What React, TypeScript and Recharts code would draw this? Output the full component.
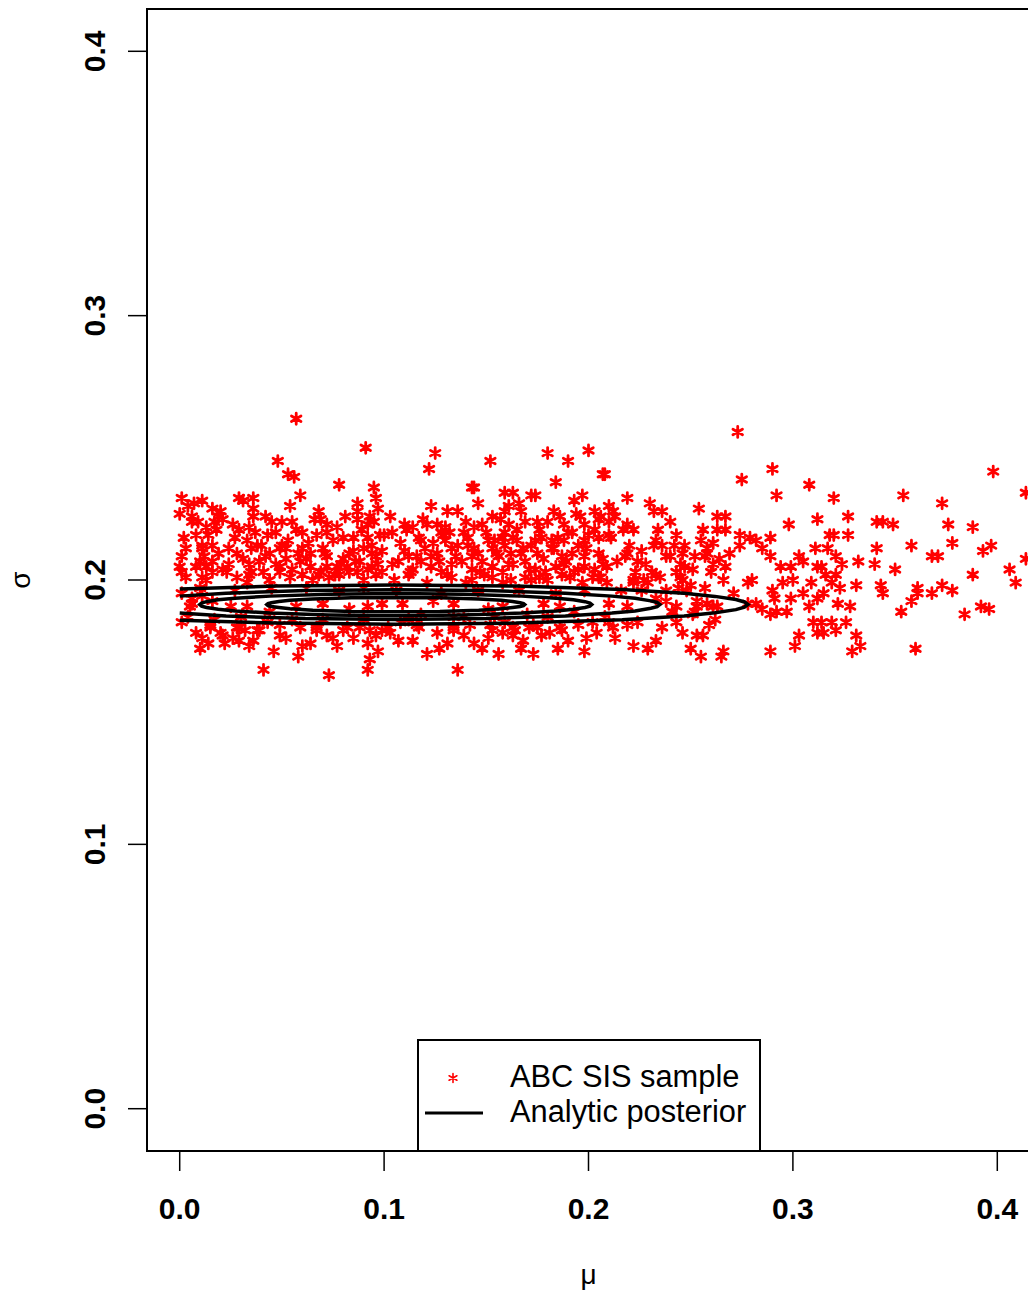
import React from 'react';
import { ScatterChart, Scatter, XAxis, YAxis, ReferenceArea, Legend, Label } from 'recharts';

type Pair = [number, number];

const FONT = '"Liberation Sans", Arial, Helvetica, sans-serif';

const muTicks = [0, 0.1, 0.2, 0.3, 0.4];
const sigmaTicks = [0, 0.1, 0.2, 0.3, 0.4];
const axisDomain: [number, number] = [-0.016, 0.416];
const legendLabels = ['ABC SIS sample', 'Analytic posterior'];
const axisTitles = { x: 'μ', y: 'σ' };

// ABC SIS sample, [mu, sigma]
const abcLeft: Pair[] = [
  [0.057, 0.261], [0.091, 0.250], [0.048, 0.245], [0.053, 0.240], [0.056, 0.239], [0.078, 0.236], [0.001, 0.231], [0.095, 0.235], [0.096, 0.231], [0.059, 0.232],
  [0.029, 0.231], [0.036, 0.231], [0.031, 0.230], [0.007, 0.229], [0.011, 0.230], [0.087, 0.229], [0.087, 0.226], [0.054, 0.228], [0.036, 0.227], [0.097, 0.227],
  [0.000, 0.225], [0.016, 0.227], [0.020, 0.226], [0.042, 0.224], [0.068, 0.226], [0.006, 0.224], [0.006, 0.222], [0.021, 0.223], [0.017, 0.222], [0.036, 0.224],
  [0.050, 0.222], [0.055, 0.222], [0.093, 0.224], [0.092, 0.221], [0.069, 0.223], [0.087, 0.223], [0.072, 0.221], [0.077, 0.220], [0.013, 0.220], [0.018, 0.219],
  [0.034, 0.220], [0.029, 0.219], [0.047, 0.218], [0.043, 0.217], [0.060, 0.218], [0.067, 0.217], [0.072, 0.218], [0.080, 0.216], [0.085, 0.216], [0.092, 0.216],
  [0.098, 0.217], [0.002, 0.216], [0.008, 0.217], [0.027, 0.216], [0.033, 0.215], [0.053, 0.215], [0.050, 0.213], [0.011, 0.213], [0.016, 0.213], [0.011, 0.212],
  [0.038, 0.213], [0.035, 0.212], [0.044, 0.210], [0.049, 0.212], [0.060, 0.212], [0.064, 0.210], [0.070, 0.212], [0.072, 0.209], [0.083, 0.210], [0.080, 0.208],
  [0.090, 0.212], [0.094, 0.210], [0.096, 0.209], [0.001, 0.209], [0.000, 0.205], [0.019, 0.210], [0.016, 0.207], [0.028, 0.210], [0.024, 0.206], [0.034, 0.206],
  [0.039, 0.207], [0.010, 0.207], [0.013, 0.205], [0.052, 0.208], [0.049, 0.205], [0.059, 0.207], [0.064, 0.205], [0.072, 0.205], [0.069, 0.203], [0.077, 0.205],
  [0.082, 0.205], [0.088, 0.207], [0.092, 0.204], [0.087, 0.203], [0.094, 0.205], [0.099, 0.203], [0.003, 0.201], [0.001, 0.203], [0.011, 0.201], [0.016, 0.203],
  [0.023, 0.203], [0.028, 0.201], [0.034, 0.202], [0.041, 0.203], [0.044, 0.200], [0.049, 0.203], [0.054, 0.201], [0.060, 0.202], [0.065, 0.200], [0.073, 0.201],
  [0.078, 0.202], [0.083, 0.203], [0.090, 0.200], [0.096, 0.202],
  [0.006, 0.193], [0.005, 0.190], [0.001, 0.184], [0.011, 0.194], [0.015, 0.182], [0.020, 0.180], [0.021, 0.179], [0.011, 0.178], [0.014, 0.176], [0.022, 0.176],
  [0.029, 0.177], [0.034, 0.175], [0.028, 0.182], [0.032, 0.181], [0.039, 0.181], [0.033, 0.190], [0.049, 0.179], [0.041, 0.166], [0.059, 0.182], [0.060, 0.175],
  [0.067, 0.181], [0.072, 0.179], [0.075, 0.178], [0.082, 0.182], [0.088, 0.182], [0.073, 0.164], [0.092, 0.176], [0.097, 0.173], [0.093, 0.170], [0.092, 0.166],
  [0.099, 0.181],
];

const abcCentre: Pair[] = [
  [0.125, 0.248], [0.122, 0.242], [0.152, 0.245], [0.180, 0.248], [0.200, 0.249], [0.190, 0.245], [0.207, 0.240], [0.143, 0.235], [0.144, 0.235], [0.184, 0.237],
  [0.159, 0.233], [0.163, 0.233], [0.172, 0.232], [0.174, 0.232], [0.193, 0.230], [0.197, 0.232], [0.123, 0.228], [0.146, 0.229], [0.166, 0.229], [0.167, 0.226],
  [0.161, 0.228], [0.183, 0.226], [0.131, 0.226], [0.136, 0.226], [0.153, 0.224], [0.159, 0.226], [0.194, 0.225], [0.196, 0.224], [0.203, 0.226], [0.205, 0.223],
  [0.110, 0.221], [0.114, 0.220], [0.121, 0.221], [0.126, 0.221], [0.130, 0.220], [0.128, 0.218], [0.144, 0.220], [0.148, 0.221], [0.161, 0.221], [0.159, 0.218],
  [0.169, 0.222], [0.175, 0.222], [0.180, 0.222], [0.188, 0.221], [0.190, 0.218], [0.198, 0.221], [0.200, 0.217], [0.104, 0.218], [0.117, 0.216], [0.118, 0.215],
  [0.129, 0.217], [0.130, 0.215], [0.139, 0.218], [0.141, 0.216], [0.151, 0.215], [0.154, 0.215], [0.158, 0.216], [0.163, 0.216], [0.165, 0.215], [0.174, 0.215],
  [0.177, 0.216], [0.182, 0.215], [0.185, 0.216], [0.188, 0.215], [0.198, 0.215], [0.205, 0.216], [0.100, 0.217], [0.110, 0.211], [0.112, 0.209], [0.120, 0.212],
  [0.123, 0.209], [0.126, 0.210], [0.133, 0.212], [0.135, 0.209], [0.141, 0.213], [0.143, 0.209], [0.146, 0.210], [0.153, 0.212], [0.156, 0.209], [0.159, 0.213],
  [0.162, 0.210], [0.167, 0.210], [0.172, 0.213], [0.175, 0.210], [0.182, 0.212], [0.187, 0.209], [0.192, 0.210], [0.195, 0.213], [0.198, 0.209], [0.205, 0.210],
  [0.104, 0.206], [0.107, 0.207], [0.114, 0.204], [0.118, 0.207], [0.123, 0.205], [0.128, 0.203], [0.133, 0.206], [0.138, 0.207], [0.143, 0.204], [0.148, 0.207],
  [0.153, 0.205], [0.158, 0.203], [0.163, 0.206], [0.169, 0.207], [0.174, 0.204], [0.179, 0.203], [0.184, 0.205], [0.188, 0.206], [0.193, 0.203], [0.198, 0.205],
  [0.203, 0.204], [0.207, 0.206], [0.105, 0.200], [0.112, 0.202], [0.121, 0.199], [0.133, 0.201], [0.143, 0.200], [0.149, 0.202], [0.158, 0.199], [0.169, 0.201],
  [0.180, 0.200], [0.187, 0.202], [0.197, 0.199], [0.205, 0.201],
  [0.102, 0.182], [0.107, 0.177], [0.117, 0.182], [0.121, 0.172], [0.127, 0.174], [0.134, 0.181], [0.139, 0.179], [0.136, 0.166], [0.144, 0.176], [0.151, 0.178],
  [0.153, 0.181], [0.163, 0.179], [0.164, 0.181], [0.167, 0.174], [0.171, 0.182], [0.175, 0.182], [0.173, 0.172], [0.181, 0.180], [0.187, 0.181], [0.198, 0.173],
  [0.154, 0.186], [0.159, 0.184],
];

const abcRight: Pair[] = [
  [0.273, 0.256], [0.208, 0.240], [0.290, 0.242], [0.275, 0.238], [0.308, 0.236], [0.292, 0.232], [0.219, 0.231], [0.230, 0.229], [0.210, 0.228], [0.212, 0.226],
  [0.213, 0.224], [0.232, 0.226], [0.236, 0.226], [0.254, 0.227], [0.263, 0.224], [0.267, 0.224], [0.206, 0.224], [0.312, 0.223], [0.298, 0.221], [0.210, 0.222],
  [0.219, 0.221], [0.222, 0.219], [0.234, 0.219], [0.256, 0.219], [0.263, 0.219], [0.267, 0.219], [0.210, 0.217], [0.211, 0.216], [0.243, 0.217], [0.274, 0.217],
  [0.279, 0.216], [0.282, 0.215], [0.289, 0.216], [0.261, 0.214], [0.274, 0.213], [0.311, 0.212], [0.220, 0.213], [0.219, 0.210], [0.218, 0.209], [0.232, 0.213],
  [0.236, 0.213], [0.240, 0.209], [0.242, 0.213], [0.246, 0.210], [0.258, 0.212], [0.258, 0.210], [0.257, 0.209], [0.285, 0.212], [0.289, 0.209], [0.303, 0.209],
  [0.305, 0.207], [0.264, 0.208], [0.267, 0.205], [0.207, 0.208], [0.209, 0.205], [0.224, 0.207], [0.223, 0.203], [0.245, 0.206], [0.247, 0.205], [0.251, 0.204],
  [0.294, 0.205], [0.299, 0.205], [0.312, 0.205], [0.231, 0.203], [0.233, 0.202], [0.235, 0.201], [0.243, 0.203], [0.246, 0.200], [0.260, 0.203], [0.266, 0.200],
  [0.278, 0.199], [0.280, 0.200], [0.295, 0.199], [0.300, 0.200], [0.309, 0.199], [0.227, 0.200], [0.222, 0.199], [0.206, 0.201], [0.209, 0.199], [0.238, 0.196],
  [0.250, 0.198], [0.248, 0.196], [0.290, 0.196], [0.291, 0.193], [0.299, 0.193], [0.305, 0.195], [0.308, 0.190], [0.312, 0.193], [0.271, 0.195], [0.278, 0.191],
  [0.282, 0.191], [0.285, 0.189], [0.289, 0.187], [0.292, 0.188], [0.297, 0.188], [0.253, 0.190], [0.252, 0.188], [0.261, 0.190], [0.262, 0.185], [0.243, 0.184],
  [0.219, 0.183], [0.212, 0.182], [0.210, 0.184], [0.233, 0.177], [0.229, 0.174], [0.222, 0.175], [0.253, 0.179], [0.256, 0.179], [0.250, 0.174], [0.255, 0.171],
  [0.266, 0.173], [0.265, 0.171], [0.289, 0.173], [0.303, 0.179], [0.301, 0.175], [0.310, 0.184], [0.312, 0.180],
];

const abcTail: Pair[] = [
  [0.398, 0.241], [0.414, 0.233], [0.320, 0.231], [0.354, 0.232], [0.373, 0.229], [0.327, 0.224], [0.341, 0.222], [0.344, 0.222], [0.349, 0.221], [0.376, 0.221],
  [0.388, 0.220], [0.318, 0.217], [0.320, 0.217], [0.327, 0.217], [0.341, 0.212], [0.358, 0.213], [0.378, 0.214], [0.393, 0.211], [0.397, 0.213], [0.414, 0.208],
  [0.317, 0.212], [0.321, 0.209], [0.324, 0.206], [0.332, 0.207], [0.340, 0.206], [0.350, 0.204], [0.368, 0.209], [0.371, 0.209], [0.314, 0.205], [0.316, 0.202],
  [0.319, 0.199], [0.321, 0.202], [0.323, 0.197], [0.331, 0.198], [0.343, 0.198], [0.344, 0.195], [0.361, 0.197], [0.361, 0.195], [0.368, 0.195], [0.373, 0.198],
  [0.378, 0.196], [0.388, 0.202], [0.406, 0.204], [0.409, 0.199], [0.315, 0.195], [0.322, 0.191], [0.328, 0.190], [0.358, 0.192], [0.353, 0.188], [0.392, 0.190],
  [0.396, 0.189], [0.384, 0.187], [0.314, 0.184], [0.319, 0.184], [0.326, 0.184], [0.315, 0.180], [0.321, 0.181], [0.331, 0.179], [0.329, 0.173], [0.333, 0.175],
  [0.360, 0.174],
];

// points partly hidden between the contour lines
const abcBand: Pair[] = [
  [0.013, 0.200], [0.033, 0.199], [0.006, 0.191], [0.016, 0.192], [0.025, 0.190], [0.044, 0.188], [0.057, 0.190], [0.070, 0.191], [0.083, 0.189], [0.092, 0.190],
  [0.099, 0.191], [0.109, 0.191], [0.124, 0.192], [0.134, 0.191], [0.015, 0.183], [0.029, 0.182], [0.038, 0.181], [0.049, 0.183], [0.067, 0.182], [0.080, 0.181],
  [0.093, 0.181], [0.103, 0.180], [0.116, 0.183], [0.134, 0.182],
  [0.140, 0.199], [0.162, 0.200], [0.176, 0.201], [0.202, 0.201], [0.222, 0.200], [0.229, 0.199], [0.245, 0.201], [0.158, 0.190], [0.178, 0.191], [0.186, 0.190],
  [0.210, 0.191], [0.219, 0.190], [0.238, 0.192], [0.243, 0.190], [0.253, 0.192], [0.258, 0.191], [0.263, 0.190], [0.152, 0.183], [0.163, 0.182], [0.173, 0.183],
  [0.186, 0.182], [0.202, 0.184], [0.208, 0.186], [0.251, 0.187], [0.241, 0.188],
];

// the dense overlapping core
const abcCore: Pair[] = [
  [0.004, 0.228], [0.009, 0.222], [0.014, 0.217], [0.019, 0.224], [0.024, 0.212], [0.026, 0.221], [0.031, 0.208], [0.037, 0.218], [0.040, 0.213], [0.045, 0.222],
  [0.047, 0.206], [0.052, 0.212], [0.057, 0.219], [0.062, 0.208], [0.063, 0.214], [0.066, 0.223], [0.071, 0.210], [0.075, 0.215], [0.079, 0.206], [0.081, 0.224],
  [0.085, 0.211], [0.089, 0.219], [0.094, 0.213], [0.097, 0.206], [0.003, 0.212], [0.008, 0.205], [0.012, 0.209], [0.021, 0.204], [0.035, 0.203], [0.042, 0.209],
  [0.055, 0.204], [0.058, 0.210], [0.068, 0.202], [0.076, 0.202], [0.086, 0.207], [0.095, 0.222], [0.099, 0.211], [0.001, 0.195], [0.010, 0.197], [0.027, 0.196],
  [0.045, 0.197], [0.062, 0.197], [0.078, 0.196], [0.090, 0.197],
  [0.004, 0.186], [0.008, 0.180], [0.017, 0.185], [0.026, 0.178], [0.030, 0.186], [0.036, 0.177], [0.043, 0.184], [0.052, 0.178], [0.055, 0.185], [0.064, 0.176],
  [0.070, 0.185], [0.077, 0.175], [0.085, 0.178], [0.090, 0.185], [0.096, 0.179], [0.046, 0.173], [0.010, 0.174], [0.058, 0.171],
  [0.103, 0.224], [0.108, 0.214], [0.111, 0.219], [0.116, 0.209], [0.119, 0.223], [0.124, 0.214], [0.127, 0.207], [0.132, 0.218], [0.136, 0.213], [0.140, 0.222],
  [0.144, 0.212], [0.147, 0.203], [0.150, 0.218], [0.155, 0.210], [0.157, 0.223], [0.161, 0.206], [0.165, 0.219], [0.168, 0.212], [0.171, 0.204], [0.176, 0.219],
  [0.178, 0.208], [0.183, 0.212], [0.186, 0.224], [0.189, 0.207], [0.192, 0.218], [0.195, 0.204], [0.199, 0.212], [0.203, 0.219], [0.113, 0.203], [0.131, 0.202],
  [0.153, 0.201], [0.172, 0.200], [0.191, 0.201],
  [0.106, 0.196], [0.118, 0.187], [0.128, 0.195], [0.139, 0.186], [0.146, 0.196], [0.151, 0.189], [0.166, 0.196], [0.170, 0.187], [0.184, 0.195], [0.193, 0.188],
  [0.198, 0.196], [0.112, 0.185], [0.134, 0.186], [0.180, 0.186],
  [0.108, 0.184], [0.114, 0.177], [0.126, 0.180], [0.131, 0.176], [0.142, 0.183], [0.148, 0.174], [0.158, 0.180], [0.168, 0.177], [0.177, 0.179], [0.190, 0.177],
  [0.195, 0.183], [0.199, 0.178], [0.156, 0.172], [0.185, 0.174],
  [0.214, 0.207], [0.217, 0.219], [0.226, 0.211], [0.228, 0.206], [0.233, 0.215], [0.238, 0.209], [0.240, 0.222], [0.247, 0.213], [0.252, 0.209], [0.255, 0.215],
  [0.261, 0.206], [0.269, 0.210], [0.226, 0.196], [0.233, 0.193], [0.244, 0.197], [0.216, 0.196], [0.257, 0.197],
  [0.213, 0.178], [0.224, 0.184], [0.236, 0.182], [0.246, 0.180], [0.259, 0.183], [0.204, 0.180],
];

// analytic posterior contours, [mu, sigma], innermost first
const contour1: Pair[] = [
  [0.1057, 0.1934], [0.0841, 0.1933], [0.0651, 0.1928], [0.0540, 0.1923], [0.0485, 0.1919], [0.0448, 0.1914], [0.0432, 0.1911], [0.0426, 0.1907],
  [0.0432, 0.1903], [0.0448, 0.1900], [0.0485, 0.1896], [0.0540, 0.1891], [0.0651, 0.1886], [0.0841, 0.1881], [0.1057, 0.1880], [0.1273, 0.1881],
  [0.1463, 0.1886], [0.1574, 0.1891], [0.1629, 0.1896], [0.1666, 0.1900], [0.1682, 0.1903], [0.1688, 0.1907], [0.1682, 0.1911], [0.1666, 0.1914],
  [0.1629, 0.1919], [0.1574, 0.1923], [0.1463, 0.1928], [0.1273, 0.1933], [0.1057, 0.1934],
];
const contour2: Pair[] = [
  [0.1057, 0.1949], [0.0729, 0.1946], [0.0441, 0.1939], [0.0271, 0.1931], [0.0188, 0.1925], [0.0131, 0.1918], [0.0107, 0.1913], [0.0098, 0.1907],
  [0.0107, 0.1901], [0.0131, 0.1896], [0.0188, 0.1889], [0.0271, 0.1883], [0.0441, 0.1875], [0.0729, 0.1868], [0.1057, 0.1865], [0.1385, 0.1868],
  [0.1673, 0.1875], [0.1843, 0.1883], [0.1926, 0.1889], [0.1983, 0.1896], [0.2007, 0.1901], [0.2016, 0.1907], [0.2007, 0.1913], [0.1983, 0.1918],
  [0.1926, 0.1925], [0.1843, 0.1931], [0.1673, 0.1939], [0.1385, 0.1946], [0.1057, 0.1949],
];
const contour3: Pair[] = [
  [0, 0.1939], [0.0227, 0.1950], [0.0615, 0.1960], [0.1057, 0.1963], [0.1499, 0.1960], [0.1887, 0.1950], [0.2115, 0.1939], [0.2228, 0.1931],
  [0.2305, 0.1921], [0.2336, 0.1915], [0.2349, 0.1907], [0.2336, 0.1899], [0.2305, 0.1893], [0.2228, 0.1883], [0.2115, 0.1875], [0.1887, 0.1864],
  [0.1499, 0.1854], [0.1057, 0.1851], [0.0615, 0.1854], [0.0227, 0.1864], [0, 0.1875],
];
const contour4: Pair[] = [
  [0, 0.1966], [0.0468, 0.1977], [0.1057, 0.1981], [0.1646, 0.1977], [0.2165, 0.1964], [0.2468, 0.1950], [0.2619, 0.1938], [0.2721, 0.1926],
  [0.2763, 0.1917], [0.2780, 0.1907], [0.2763, 0.1897], [0.2721, 0.1888], [0.2619, 0.1876], [0.2468, 0.1864], [0.2165, 0.1850], [0.1646, 0.1837],
  [0.1057, 0.1833], [0.0468, 0.1837], [0, 0.1848],
];

const toPoints = (pairs: Pair[]) => pairs.map(([mu, sigma]) => ({ mu, sigma }));

const samplePoints = toPoints([...abcLeft, ...abcCentre, ...abcRight, ...abcTail, ...abcBand, ...abcCore]);
const contours = [contour1, contour2, contour3, contour4].map(toPoints);

const starPath = (cx: number, cy: number, r: number) => {
  const a = r * 0.866;
  const b = r * 0.5;
  return `M${cx},${cy - r}L${cx},${cy + r}M${cx - a},${cy - b}L${cx + a},${cy + b}M${cx - a},${cy + b}L${cx + a},${cy - b}`;
};

const Star = (props: any) => (
  <path d={starPath(props.cx, props.cy, 5.5)} stroke="#ff0000" strokeWidth={2.8} strokeLinecap="round" fill="none" />
);

const MuTick = (props: any) => {
  const { x, y, payload } = props;
  return (
    <text x={x} y={y + 46} textAnchor="middle" fontSize={30} fontWeight="bold" fill="#000" fontFamily={FONT}>
      {payload.value.toFixed(1)}
    </text>
  );
};

const SigmaTick = (props: any) => {
  const { y, payload } = props;
  const bx = 105;
  return (
    <text x={bx} y={y} transform={`rotate(-90, ${bx}, ${y})`} textAnchor="middle" fontSize={30} fontWeight="bold" fill="#000" fontFamily={FONT}>
      {payload.value.toFixed(1)}
    </text>
  );
};

const LegendBox = () => (
  <svg width={345} height={114} style={{ display: 'block' }}>
    <rect x={1} y={1} width={342} height={111} fill="#fff" stroke="#000" strokeWidth={2} />
    <path d={starPath(36, 39, 4.5)} stroke="#ff0000" strokeWidth={1.6} strokeLinecap="round" fill="none" />
    <line x1={8} y1={74} x2={66} y2={74} stroke="#000" strokeWidth={3} />
    <text x={93} y={48} fontSize={30.8} fill="#000" fontFamily={FONT}>{legendLabels[0]}</text>
    <text x={93} y={83} fontSize={30.8} fill="#000" fontFamily={FONT}>{legendLabels[1]}</text>
  </svg>
);

const App: React.FC = () => (
  <div style={{ position: 'absolute', left: 0, top: 0, width: 1028, height: 1295, overflow: 'hidden', background: '#fff' }}>
    <ScatterChart width={1040} height={1295} margin={{ top: 9, right: 10, bottom: 0, left: 0 }}>
      <XAxis
        type="number"
        dataKey="mu"
        domain={axisDomain}
        ticks={muTicks}
        allowDataOverflow
        interval={0}
        axisLine={false}
        tickSize={20}
        tickLine={{ stroke: '#000', strokeWidth: 1.5 }}
        tick={<MuTick />}
        height={144}
      >
        <Label
          content={() => (
            <text x={588.5} y={1284} textAnchor="middle" fontSize={28} fill="#000" fontFamily={FONT}>{axisTitles.x}</text>
          )}
        />
      </XAxis>
      <YAxis
        type="number"
        dataKey="sigma"
        domain={axisDomain}
        ticks={sigmaTicks}
        allowDataOverflow
        interval={0}
        axisLine={false}
        tickSize={19}
        tickLine={{ stroke: '#000', strokeWidth: 1.5 }}
        tick={<SigmaTick />}
        width={147}
      >
        <Label
          content={() => (
            <text x={30} y={580} transform="rotate(-90, 30, 580)" textAnchor="middle" fontSize={28} fill="#000" fontFamily={FONT}>{axisTitles.y}</text>
          )}
        />
      </YAxis>
      <Scatter data={samplePoints} shape={<Star />} isAnimationActive={false} />
      {contours.map((c, i) => (
        <Scatter
          key={i}
          data={c}
          line={{ stroke: '#000', strokeWidth: 3.5 }}
          lineType="joint"
          shape={() => <g />}
          isAnimationActive={false}
        />
      ))}
      <ReferenceArea x1={axisDomain[0]} x2={axisDomain[1]} y1={axisDomain[0]} y2={axisDomain[1]} fill="none" stroke="#000" strokeWidth={2} />
      <Legend
        layout="horizontal"
        verticalAlign="middle"
        align="center"
        wrapperStyle={{ left: 417, top: 1039, width: 345, height: 114 }}
        content={() => <LegendBox />}
      />
    </ScatterChart>
  </div>
);

export default App;
